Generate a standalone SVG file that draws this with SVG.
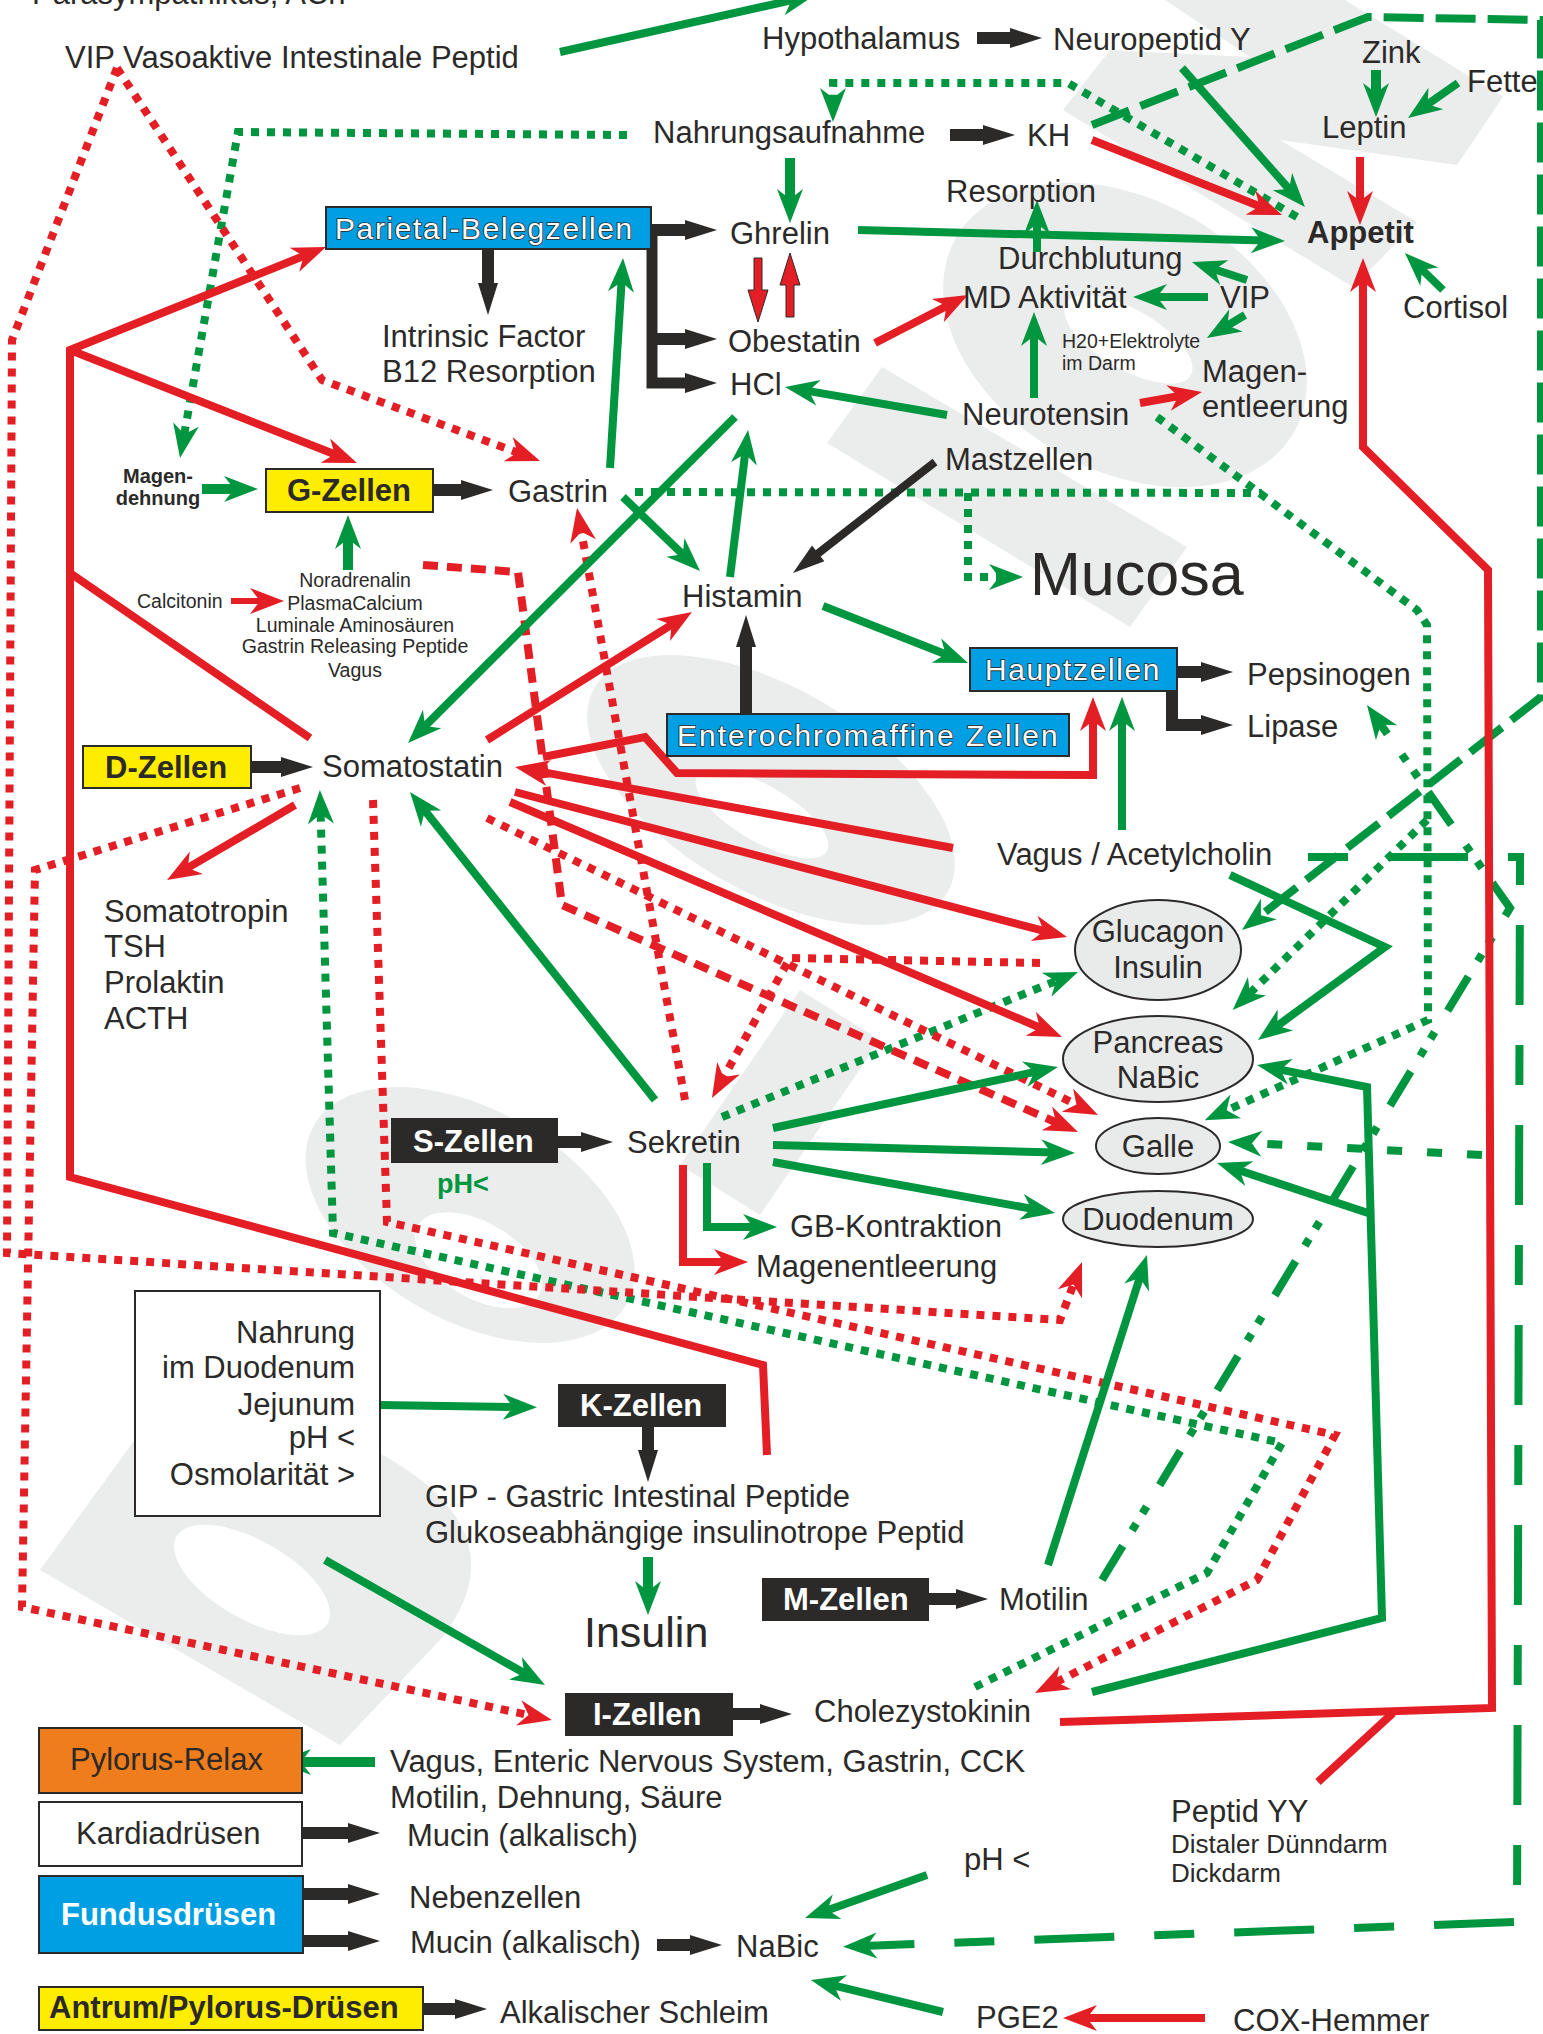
<svg xmlns="http://www.w3.org/2000/svg" width="1543" height="2034" viewBox="0 0 1543 2034">
<style>
.t{font-family:"Liberation Sans",Arial,sans-serif;font-size:31px;fill:#2b2a29}
.s{font-family:"Liberation Sans",Arial,sans-serif;font-size:19.5px;fill:#2b2a29}
.b{font-family:"Liberation Sans",Arial,sans-serif;font-size:31px;font-weight:bold;fill:#2b2a29}
.w{font-family:"Liberation Sans",Arial,sans-serif;font-size:31px;font-weight:bold;fill:#ffffff}
.wo{font-family:"Liberation Sans",Arial,sans-serif;font-size:30px;fill:#ffffff;stroke:#2b2a29;stroke-width:1.6;paint-order:stroke;letter-spacing:1.6px}
.g{stroke:#009640;stroke-width:8;fill:none}
.r{stroke:#e31e24;stroke-width:8;fill:none}
.k{stroke:#2b2a29;stroke-width:12;fill:none}
.gd{stroke:#009640;stroke-width:8;stroke-dasharray:8 8;fill:none}
.rd{stroke:#e31e24;stroke-width:8;stroke-dasharray:8 8;fill:none}
.rdash{stroke:#e31e24;stroke-width:8;stroke-dasharray:15 9;fill:none}
.box{stroke:#2b2a29;stroke-width:2}
.ell{fill:#e9eaea;stroke:#2b2a29;stroke-width:2}
.wm{fill:#ebecec}
</style>
<defs>
<marker id="ag" markerUnits="userSpaceOnUse" markerWidth="36" markerHeight="30" refX="14" refY="15" orient="auto" overflow="visible"><path d="M0,2 L34,15 L0,28 L10,15 Z" fill="#009640"/></marker>
<marker id="ar" markerUnits="userSpaceOnUse" markerWidth="36" markerHeight="30" refX="14" refY="15" orient="auto" overflow="visible"><path d="M0,2 L34,15 L0,28 L10,15 Z" fill="#e31e24"/></marker>
<marker id="ab" markerUnits="userSpaceOnUse" markerWidth="34" markerHeight="22" refX="10" refY="11" orient="auto" overflow="visible"><path d="M0,1 L32,11 L0,21 Z" fill="#2b2a29"/></marker>
</defs>
<rect width="1543" height="2034" fill="#ffffff"/>

<g id="watermark">
<path class="wm" fill-rule="evenodd" transform="rotate(30 1125 335)" d="M930,335 a195,135 0 1,0 390,0 a195,135 0 1,0 -390,0 Z M1058,337 a72,30 0 1,0 144,0 a72,30 0 1,0 -144,0 Z"/>
<polygon class="wm" points="1063,110 1110,50 1250,57 1165,0 1345,0 1503,97 1457,165 1280,140 1417,222 1353,287"/>
<polygon class="wm" points="882,367 1187,547 1130,627 827,443"/>
<path class="wm" fill-rule="evenodd" transform="rotate(30 771 790)" d="M567,790 a204,102 0 1,0 408,0 a204,102 0 1,0 -408,0 Z M700,815 a75,28 0 1,0 150,0 a75,28 0 1,0 -150,0 Z"/>
<polygon class="wm" points="800,990 880,1040 760,1215 680,1165"/>
<path class="wm" fill-rule="evenodd" transform="rotate(30 470 1215)" d="M290,1215 a180,105 0 1,0 360,0 a180,105 0 1,0 -360,0 Z M430,1250 a70,38 0 1,0 140,0 a70,38 0 1,0 -140,0 Z"/>
<path class="wm" fill-rule="evenodd" d="M40,1570 L200,1350 L395,1462 Q520,1540 440,1640 L340,1745 Z M190,1580 a62,28 30 1,0 124,0 a62,28 30 1,0 -124,0 Z"/>
</g>

<g id="connectors">
<!-- green dotted -->
<path class="gd" d="M627,135 L238,132 L183.5,438.3" marker-end="url(#ag)"/>
<path class="gd" d="M1297,217 L1068,83 L833,83 L833,102" marker-end="url(#ag)"/>
<path class="gd" d="M635,492 L1262,493"/>
<path class="gd" d="M1157,417 L1417,610 L1427,625 L1428,1020 L1223,1112" marker-end="url(#ag)"/>
<path class="gd" d="M968,493 L968,577 L1003,577" marker-end="url(#ag)"/>
<path class="gd" d="M1427,820 L1247,996" marker-end="url(#ag)"/>
<path class="gd" d="M722,1117 L1059.5,979.5" marker-end="url(#ag)"/>
<path class="gd" d="M975,1687 L1207,1573 L1282,1443 L333,1233 L320.5,810" marker-end="url(#ag)"/>
<!-- green dashed -->
<path class="g" style="stroke-dasharray:40 12" d="M1092,125 L1368,17 L1541,20 L1541,697 L1257.8,917.7" marker-end="url(#ag)"/>
<path class="g" style="stroke-dasharray:40 40 80 40" d="M1308,857 L1520,857 L1517,1922 L863,1946" marker-end="url(#ag)"/>
<path class="g" style="stroke-dasharray:40 18 8 12 8 25" d="M1102,1580 L1510,908 L1378.5,721.4" marker-end="url(#ag)"/>
<path class="g" style="stroke-dasharray:15 25" d="M1482,1155 L1248,1143" marker-end="url(#ag)"/>
<!-- red dotted -->
<path class="rd" d="M117,68 L12,340 L7,1253 L1060,1320 L1074.9,1280.7" marker-end="url(#ar)"/>
<path class="rd" d="M117,68 L322,380 L521.3,454" marker-end="url(#ar)"/>
<path class="rd" d="M300,788 L35,870 L22,1607 L532.4,1715.8" marker-end="url(#ar)"/>
<path class="rd" d="M373,800 L387,1222 L1335,1435 L1257,1580 L1052.8,1683.9" marker-end="url(#ar)"/>
<path class="rd" d="M487,818 L1080,1106.3" marker-end="url(#ar)"/>
<path class="rd" d="M685,1100 L580.6,527.7" marker-end="url(#ar)"/>
<path class="rd" d="M1040,963 L790,958 L721.7,1080.5" marker-end="url(#ar)"/>
<path class="rdash" d="M423,565 L518,572 L562,905 L1059.7,1124" marker-end="url(#ar)"/>
<!-- red solid -->
<path class="r" d="M767,1455 L763,1365 L70,1177 L70,350 L307.4,254.5" marker-end="url(#ar)"/>
<path class="r" d="M70,350 L338.4,455.7" marker-end="url(#ar)"/>
<path class="r" d="M70,573 L310,738"/>
<path class="r" d="M487,740 L675,622.6" marker-end="url(#ar)"/>
<path class="r" d="M953,848 L534.7,770.6" marker-end="url(#ar)"/>
<path class="r" d="M543,757 L645,737 L677,773 L1093,775 L1093,717" marker-end="url(#ar)"/>
<path class="r" d="M515,792 L1047.7,931.9" marker-end="url(#ar)"/>
<path class="r" d="M510,802 L1043.6,1029.2" marker-end="url(#ar)"/>
<path class="r" d="M683,1165 L683,1262 L728,1262" marker-end="url(#ar)"/>
<path class="r" d="M1092,140 L1263.4,207.7" marker-end="url(#ar)"/>
<path class="r" d="M1360,157 L1360,205" marker-end="url(#ar)"/>
<path class="r" d="M875,343 L950.2,304.2" marker-end="url(#ar)"/>
<path class="r" d="M1140,403 L1182.3,395.5" marker-end="url(#ar)"/>
<path class="r" style="stroke-width:6" d="M231,601 L264,601" marker-end="url(#ar)"/>
<path class="r" d="M295,805 L184.3,869.9" marker-end="url(#ar)"/>
<path class="r" d="M1205,2018 L1083,2018" marker-end="url(#ar)"/>
<path class="r" d="M1060,1722 L1492,1708 L1488,570 L1363,447 L1363,278" marker-end="url(#ar)"/>
<path class="r" d="M1318,1782 L1393,1713"/>
<path d="M754,258 H762 V290 H768 L758,322 L748,290 H754 Z" fill="#e31e24" stroke="#2b2a29" stroke-width="1"/>
<path d="M786,317 H794 V285 H800 L790,253 L780,285 H786 Z" fill="#e31e24" stroke="#2b2a29" stroke-width="1"/>
<!-- green solid -->
<path class="g" d="M560,52 L795.5,-0.6" marker-end="url(#ag)"/>
<path class="g" style="stroke-width:10" d="M790,158 L790,203" marker-end="url(#ag)"/>
<path class="g" d="M858,230 L1265,240.5" marker-end="url(#ag)"/>
<path class="g" d="M1037,252 L1037,220" marker-end="url(#ag)"/>
<path class="g" d="M1208,297 L1153,297" marker-end="url(#ag)"/>
<path class="g" d="M1247,280 L1211,268.2" marker-end="url(#ag)"/>
<path class="g" d="M1245,315 L1224,327.6" marker-end="url(#ag)"/>
<path class="g" d="M1034,398 L1034,332" marker-end="url(#ag)"/>
<path class="g" d="M947,415 L804.7,390.4" marker-end="url(#ag)"/>
<path class="g" d="M610,468 L621.8,278" marker-end="url(#ag)"/>
<path class="g" style="stroke-width:10" d="M202,489 L238,489" marker-end="url(#ag)"/>
<path class="g" style="stroke-width:10" d="M348,570 L348,535" marker-end="url(#ag)"/>
<path class="g" d="M623,497 L685.6,557.1" marker-end="url(#ag)"/>
<path class="g" d="M735,417 L422.2,728.9" marker-end="url(#ag)"/>
<path class="g" d="M730,577 L745.6,449.9" marker-end="url(#ag)"/>
<path class="g" d="M823,606 L949.4,655.7" marker-end="url(#ag)"/>
<path class="g" d="M1122,830 L1122,717" marker-end="url(#ag)"/>
<path class="g" d="M655,1100 L422.4,807.6" marker-end="url(#ag)"/>
<path class="g" d="M773,1128 L1038.4,1071.2" marker-end="url(#ag)"/>
<path class="g" d="M773,1145 L1055,1152.5" marker-end="url(#ag)"/>
<path class="g" d="M773,1162 L1035.3,1209.4" marker-end="url(#ag)"/>
<path class="g" d="M707,1163 L707,1227 L757,1227" marker-end="url(#ag)"/>
<path class="g" d="M1230,875 L1385,947 L1274.1,1028.2" marker-end="url(#ag)"/>
<path class="g" d="M1092,1692 L1382,1618 L1367,1087 L1276.6,1068.9" marker-end="url(#ag)"/>
<path class="g" d="M1368,1213 L1236,1169.3" marker-end="url(#ag)"/>
<path class="g" d="M1048,1565 L1140.9,1274.1" marker-end="url(#ag)"/>
<path class="g" d="M380,1405 L517,1407" marker-end="url(#ag)"/>
<path class="g" style="stroke-width:10" d="M648,1557 L648,1595" marker-end="url(#ag)"/>
<path class="g" d="M325,1560 L527.6,1675.1" marker-end="url(#ag)"/>
<path class="g" style="stroke-width:10" d="M375,1762 L297,1762" marker-end="url(#ag)"/>
<path class="g" d="M927,1875 L823.9,1911.4" marker-end="url(#ag)"/>
<path class="g" d="M943,2012 L830.4,1984.7" marker-end="url(#ag)"/>
<path class="g" d="M1182,68 L1291.7,192" marker-end="url(#ag)"/>
<path class="g" style="stroke-width:10" d="M1376,70 L1376,97" marker-end="url(#ag)"/>
<path class="g" d="M1458,83 L1424.4,106.5" marker-end="url(#ag)"/>
<path class="g" d="M1443,290 L1419.3,267" marker-end="url(#ag)"/>
<!-- black -->
<path class="k" d="M977,38 L1020,38" marker-end="url(#ab)"/>
<path class="k" d="M950,135 L993,135" marker-end="url(#ab)"/>
<path class="k" d="M651,230 L695,230" marker-end="url(#ab)"/>
<path class="k" style="stroke-width:11" d="M652,225 L652,383 L695,383" marker-end="url(#ab)"/>
<path class="k" d="M652,339 L695,339" marker-end="url(#ab)"/>
<path class="k" d="M488,249 L488,293" marker-end="url(#ab)"/>
<path class="k" d="M433,490 L471,490" marker-end="url(#ab)"/>
<path class="k" style="stroke-width:8" d="M935,462 L810.3,559.5" marker-end="url(#ab)"/>
<path class="k" d="M746,713 L746,637" marker-end="url(#ab)"/>
<path class="k" d="M1177,672 L1211,672" marker-end="url(#ab)"/>
<path class="k" d="M1172,691 L1172,725 L1211,725" marker-end="url(#ab)"/>
<path class="k" d="M251,767 L291,767" marker-end="url(#ab)"/>
<path class="k" d="M558,1142 L591,1142" marker-end="url(#ab)"/>
<path class="k" d="M648,1427 L648,1460" marker-end="url(#ab)"/>
<path class="k" d="M929,1599 L966,1599" marker-end="url(#ab)"/>
<path class="k" d="M733,1714 L770,1714" marker-end="url(#ab)"/>
<path class="k" d="M302,1833 L358,1833" marker-end="url(#ab)"/>
<path class="k" d="M303,1894 L358,1894" marker-end="url(#ab)"/>
<path class="k" d="M303,1941 L358,1941" marker-end="url(#ab)"/>
<path class="k" d="M657,1945 L700,1945" marker-end="url(#ab)"/>
<path class="k" d="M423,2009 L465,2009" marker-end="url(#ab)"/>
</g>

<g id="parietal"><rect class="box" x="326" y="207" width="325" height="42" fill="#009fe3"/><text class="wo" x="335" y="239">Parietal-Belegzellen</text></g>
<g id="gzellen"><rect class="box" x="266" y="469" width="167" height="43" fill="#ffed00"/><text class="b" x="287" y="501">G-Zellen</text></g>
<g id="enterochromaffine"><rect class="box" x="667" y="714" width="402" height="42" fill="#009fe3"/><text class="wo" style="letter-spacing:2px" x="677" y="746">Enterochromaffine Zellen</text></g>
<g id="hauptzellen"><rect class="box" x="970" y="648" width="207" height="43" fill="#009fe3"/><text class="wo" x="985" y="680">Hauptzellen</text></g>
<g id="dzellen"><rect class="box" x="83" y="746" width="168" height="42" fill="#ffed00"/><text class="b" x="105" y="778">D-Zellen</text></g>
<g id="szellen"><rect x="391" y="1118" width="167" height="45" fill="#2b2a29"/><text class="w" x="413" y="1152">S-Zellen</text></g>
<g id="kzellen"><rect x="558" y="1384" width="168" height="43" fill="#2b2a29"/><text class="w" x="580" y="1416">K-Zellen</text></g>
<g id="mzellen"><rect x="762" y="1578" width="167" height="43" fill="#2b2a29"/><text class="w" x="783" y="1610">M-Zellen</text></g>
<g id="izellen"><rect x="565" y="1693" width="168" height="43" fill="#2b2a29"/><text class="w" x="593" y="1725">I-Zellen</text></g>
<g id="nahrungbox"><rect class="box" x="135" y="1291" width="245" height="225" fill="#ffffff"/>
<text class="t" text-anchor="end" x="355" y="1343">Nahrung</text><text class="t" text-anchor="end" x="355" y="1378">im Duodenum</text><text class="t" text-anchor="end" x="355" y="1415">Jejunum</text><text class="t" text-anchor="end" x="355" y="1448">pH &lt;</text><text class="t" text-anchor="end" x="355" y="1485">Osmolarität &gt;</text></g>
<g id="pylorus"><rect class="box" x="39" y="1728" width="263" height="65" fill="#ef7d1b"/><text class="t" x="70" y="1770">Pylorus-Relax</text></g>
<g id="kardia"><rect class="box" x="39" y="1802" width="263" height="64" fill="#ffffff"/><text class="t" x="76" y="1844">Kardiadrüsen</text></g>
<g id="fundus"><rect class="box" x="39" y="1876" width="264" height="77" fill="#009fe3"/><text class="w" x="61" y="1925">Fundusdrüsen</text></g>
<g id="antrum"><rect class="box" x="39" y="1987" width="384" height="43" fill="#ffed00"/><text class="b" x="49" y="2018">Antrum/Pylorus-Drüsen</text></g>
<g id="glucagon"><ellipse class="ell" cx="1158" cy="950" rx="83" ry="50"/><text class="t" text-anchor="middle" x="1158" y="942">Glucagon</text><text class="t" text-anchor="middle" x="1158" y="978">Insulin</text></g>
<g id="pancreas"><ellipse class="ell" cx="1158" cy="1059" rx="95" ry="43"/><text class="t" text-anchor="middle" x="1158" y="1053">Pancreas</text><text class="t" text-anchor="middle" x="1158" y="1088">NaBic</text></g>
<g id="galle"><ellipse class="ell" cx="1158" cy="1146" rx="62" ry="28"/><text class="t" text-anchor="middle" x="1158" y="1157">Galle</text></g>
<g id="duodenum"><ellipse class="ell" cx="1158" cy="1219" rx="95" ry="28"/><text class="t" text-anchor="middle" x="1158" y="1230">Duodenum</text></g>

<g id="labels">
<text class="t" x="32" y="4">Parasympathikus, ACh</text>
<text class="t" x="65" y="68">VIP Vasoaktive Intestinale Peptid</text>
<text class="t" x="762" y="49">Hypothalamus</text>
<text class="t" x="1053" y="50">Neuropeptid Y</text>
<text class="t" x="1362" y="63">Zink</text>
<text class="t" x="1467" y="92">Fette</text>
<text class="t" x="653" y="143">Nahrungsaufnahme</text>
<text class="t" x="1027" y="146">KH</text>
<text class="t" x="1322" y="138">Leptin</text>
<text class="t" x="946" y="202">Resorption</text>
<text class="t" x="730" y="244">Ghrelin</text>
<text class="b" x="1307" y="243">Appetit</text>
<text class="t" x="998" y="269">Durchblutung</text>
<text class="t" x="963" y="308">MD Aktivität</text>
<text class="t" x="1220" y="308">VIP</text>
<text class="t" x="1403" y="318">Cortisol</text>
<text class="s" x="1062" y="348">H20+Elektrolyte</text>
<text class="s" x="1062" y="370">im Darm</text>
<text class="t" x="382" y="347">Intrinsic Factor</text>
<text class="t" x="382" y="382">B12 Resorption</text>
<text class="t" x="728" y="352">Obestatin</text>
<text class="t" x="730" y="395">HCl</text>
<text class="t" x="1202" y="382">Magen-</text>
<text class="t" x="1202" y="417">entleerung</text>
<text class="t" x="962" y="425">Neurotensin</text>
<text class="t" x="945" y="470">Mastzellen</text>
<text class="b" style="font-size:20px" text-anchor="middle" x="158" y="483">Magen-</text>
<text class="b" style="font-size:20px" text-anchor="middle" x="158" y="505">dehnung</text>
<text class="t" x="508" y="502">Gastrin</text>
<text class="t" style="font-size:61px" x="1030" y="595">Mucosa</text>
<text class="s" text-anchor="middle" x="355" y="587">Noradrenalin</text>
<text class="s" text-anchor="middle" x="355" y="610">PlasmaCalcium</text>
<text class="s" text-anchor="middle" x="355" y="632">Luminale Aminosäuren</text>
<text class="s" text-anchor="middle" x="355" y="653">Gastrin Releasing Peptide</text>
<text class="s" text-anchor="middle" x="355" y="677">Vagus</text>
<text class="s" x="137" y="608">Calcitonin</text>
<text class="t" x="682" y="607">Histamin</text>
<text class="t" x="1247" y="685">Pepsinogen</text>
<text class="t" x="1247" y="737">Lipase</text>
<text class="t" x="322" y="777">Somatostatin</text>
<text class="t" x="997" y="865">Vagus / Acetylcholin</text>
<text class="t" x="104" y="922">Somatotropin</text>
<text class="t" x="104" y="957">TSH</text>
<text class="t" x="104" y="993">Prolaktin</text>
<text class="t" x="104" y="1029">ACTH</text>
<text class="t" x="627" y="1153">Sekretin</text>
<text class="b" style="font-size:27px;fill:#009640" x="437" y="1193">pH&lt;</text>
<text class="t" x="790" y="1237">GB-Kontraktion</text>
<text class="t" x="756" y="1277">Magenentleerung</text>
<text class="t" x="425" y="1507">GIP - Gastric Intestinal Peptide</text>
<text class="t" x="425" y="1543">Glukoseabhängige insulinotrope Peptid</text>
<text class="t" style="font-size:43px" x="584" y="1647">Insulin</text>
<text class="t" x="999" y="1610">Motilin</text>
<text class="t" x="814" y="1722">Cholezystokinin</text>
<text class="t" x="390" y="1772">Vagus, Enteric Nervous System, Gastrin, CCK</text>
<text class="t" x="390" y="1808">Motilin, Dehnung, Säure</text>
<text class="t" x="407" y="1846">Mucin (alkalisch)</text>
<text class="t" x="1171" y="1822">Peptid YY</text>
<text class="t" style="font-size:26px" x="1171" y="1853">Distaler Dünndarm</text>
<text class="t" style="font-size:26px" x="1171" y="1882">Dickdarm</text>
<text class="t" x="964" y="1870">pH &lt;</text>
<text class="t" x="409" y="1908">Nebenzellen</text>
<text class="t" x="410" y="1953">Mucin (alkalisch)</text>
<text class="t" x="736" y="1957">NaBic</text>
<text class="t" x="500" y="2023">Alkalischer Schleim</text>
<text class="t" x="976" y="2028">PGE2</text>
<text class="t" x="1233" y="2031">COX-Hemmer</text>
</g>
</svg>
